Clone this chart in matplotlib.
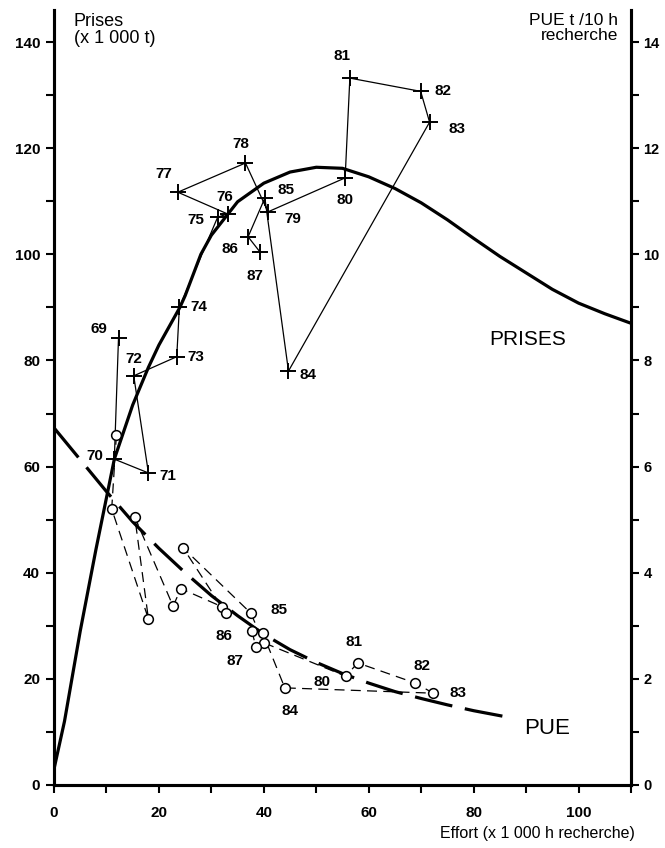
import matplotlib
matplotlib.use("Agg")
import matplotlib.pyplot as plt

plt.rcParams['font.family'] = ['Liberation Sans', 'DejaVu Sans']

# Années (69 = 1969 ... 87 = 1987)
annees = ['69', '70', '71', '72', '73', '74', '75', '76', '77', '78',
          '79', '80', '81', '82', '83', '84', '85', '86', '87']

# Effort (x 1 000 h recherche) et prises (x 1 000 t)
effort_prises = [12.3, 11.5, 18.0, 15.2, 23.4, 23.9, 31.2, 33.1, 23.6, 36.5,
                 40.8, 55.5, 56.4, 69.9, 71.6, 44.7, 40.2, 37.0, 39.3]
prises = [84.3, 61.4, 58.8, 77.1, 80.7, 90.0, 107.0, 107.6, 111.7, 117.2,
          108.0, 114.4, 133.2, 130.7, 124.9, 78.0, 110.6, 103.3, 100.4]

# Effort et PUE (t / 10 h recherche)
effort_pue = [11.9, 11.0, 18.0, 15.4, 22.7, 24.2, 32.0, 32.7, 24.6, 37.5,
              40.0, 55.6, 57.9, 68.9, 72.3, 44.0, 39.8, 37.7, 38.5]
pue = [6.6, 5.20, 3.13, 5.05, 3.37, 3.70, 3.36, 3.24, 4.47, 3.24,
       2.68, 2.05, 2.30, 1.92, 1.73, 1.83, 2.86, 2.91, 2.60]

# Courbe ajustée des prises
courbe_f = [0, 2, 5, 8, 11.5, 15, 18, 20, 24, 25, 28, 30, 35, 40, 45, 50,
            55, 60, 65, 70, 75, 80, 85, 90, 95, 100, 105, 110]
courbe_prises = [3, 12, 29, 44.4, 61.4, 71.6, 78.7, 82.9, 90.0, 92.2, 100.0, 103.6,
                 109.9, 113.4, 115.5, 116.4, 116.2, 114.6, 112.4, 109.7, 106.5,
                 103.0, 99.6, 96.5, 93.4, 90.8, 88.8, 87.0]

# Courbe ajustée de la PUE
courbe_pue_f = [0, 5, 10, 15, 20, 25, 30, 35, 40, 45, 50, 55, 60, 65, 70, 75,
                80, 87.5]
courbe_pue = [6.73, 6.13, 5.53, 4.96, 4.46, 4.0, 3.57, 3.19, 2.84, 2.55, 2.31,
              2.10, 1.92, 1.76, 1.63, 1.51, 1.40, 1.26]

# positions des étiquettes (décalages en points)
off_prises = {'69': (-14, 6), '70': (-14, 2), '71': (14, -2), '72': (0, 12),
              '73': (14, 0), '74': (14, 0), '75': (-16, -2), '76': (-2, 12),
              '77': (-10, 13), '78': (-3, 14), '79': (18, -5), '80': (0, -16),
              '81': (-6, 16), '82': (16, 0), '83': (20, -5), '84': (14, -3),
              '85': (15, 6), '86': (-13, -9), '87': (-4, -17)}
off_pue = {'80': (-17, -4), '81': (-3, 15), '82': (5, 12), '83': (18, 0),
           '84': (4, -17), '85': (12, 17), '86': (-20, -4), '87': (-15, -10)}

fig = plt.figure(figsize=(6.65, 8.48), dpi=100)
ax = fig.add_axes([0.0812, 0.0743, 0.8677, 0.9137])
ax2 = ax.twinx()

ax.set_xlim(0, 110)
ax.set_ylim(0, 146)
ax2.set_ylim(0, 14.6)

for a in (ax, ax2):
    a.spines['top'].set_visible(False)
    for s in ('left', 'right', 'bottom'):
        a.spines[s].set_linewidth(2.2)

ax.set_xticks(range(0, 111, 10))
ax.set_xticklabels([str(v) if v % 20 == 0 else '' for v in range(0, 111, 10)])
ax.set_yticks(range(0, 141, 10))
ax.set_yticklabels([str(v) if v % 20 == 0 else '' for v in range(0, 141, 10)])
ax2.set_yticks(range(0, 15))
ax2.set_yticklabels([str(v) if v % 2 == 0 else '' for v in range(0, 15)])
ax.tick_params(axis='x', length=6, width=1.5, labelsize=11, pad=9)
ax.tick_params(axis='y', length=6, width=1.5, labelsize=11, pad=4)
ax2.tick_params(axis='y', length=6, width=1.5, labelsize=10.5, pad=3)
for lab in ax.get_xticklabels() + ax.get_yticklabels() + ax2.get_yticklabels():
    lab.set_fontweight('bold')

# courbes ajustées
ax.plot(courbe_f, courbe_prises, color='black', lw=2.3, solid_capstyle='round')
ax2.plot(courbe_pue_f, courbe_pue, color='black', lw=2.3, dashes=(12, 4))

# prises observées
ax.plot(effort_prises, prises, color='black', lw=0.9, marker='+', ms=11, mew=1.4)
for x, y, t in zip(effort_prises, prises, annees):
    ax.annotate(t, (x, y), xytext=off_prises[t], textcoords='offset points',
                ha='center', va='center', fontsize=11, fontweight='bold')

# PUE observées
ax2.plot(effort_pue, pue, color='black', lw=0.9, dashes=(8, 5), marker='o', ms=7,
         mfc='white', mec='black', mew=1.1)
for x, y, t in zip(effort_pue, pue, annees):
    if t in off_pue:
        ax2.annotate(t, (x, y), xytext=off_pue[t], textcoords='offset points',
                     ha='center', va='center', fontsize=11, fontweight='bold')

ax.text(3.8, 145.5, 'Prises\n(x 1 000 t)', ha='left', va='top', fontsize=13,
        linespacing=1.05)
ax2.text(107.5, 14.55, 'PUE t /10 h\nrecherche', ha='right', va='top',
         fontsize=12.5, linespacing=1.05)
ax.text(83.0, 84, 'PRISES', ha='left', va='center', fontsize=15)
ax.text(89.7, 10.7, 'PUE', ha='left', va='center', fontsize=16)
fig.text(0.955, 0.008, 'Effort (x 1 000 h recherche)', ha='right', va='bottom',
         fontsize=11.5)

fig.savefig('out.png', dpi=100)
